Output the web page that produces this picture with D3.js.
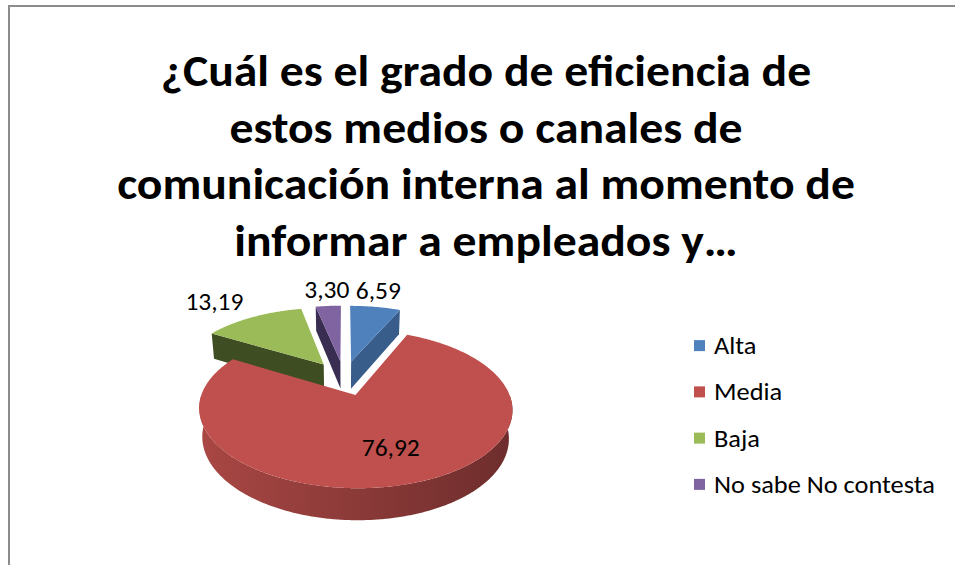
<!DOCTYPE html>
<html>
<head>
<meta charset="utf-8">
<script src="https://cdn.jsdelivr.net/npm/d3@7"></script>
<style>
  html, body { margin: 0; padding: 0; background: #fff; }
  svg { display: block; font-family: Carlito, Calibri, Lato, sans-serif; }
</style>
</head>
<body>
<svg id="chart" width="955" height="565"></svg>
<script>
// data
const categories = ["Alta", "Media", "Baja", "No sabe No contesta"];
const values = [6.59, 76.92, 13.19, 3.30];
const titleLines = [
    "¿Cuál es el grado de eficiencia de",
    "estos medios o canales de",
    "comunicación interna al momento de",
    "informar a empleados y…"
];
const topColors = ["#4f81bd", "#c0504d", "#9bbb59", "#8064a2"];
const wallColors = ["#385d8a", "#8a3331", "#3f4e22", "#3a2d52"];

const svg = d3.select("#chart");
const width = +svg.attr("width");
const height = +svg.attr("height");

// decimal comma like the original
const fmt = d3.formatLocale({decimal: ",", thousands: ".", grouping: [3], currency: ["", ""]}).format(".2f");

// outer frame
svg.append("rect")
    .attr("x", 9).attr("y", 6)
    .attr("width", width + 20).attr("height", height + 20)
    .attr("fill", "white")
    .attr("stroke", "#8c8c8c")
    .attr("stroke-width", 2);

// Calibri is narrow: keep the height, squeeze horizontally to the width seen
function squeeze(size, weight, str, target) {
    const t = svg.append("text").attr("font-size", size).attr("font-weight", weight).text(str);
    const w = t.node().getComputedTextLength();
    t.remove();
    return target / w;
}

// title
const titleSize = 45;
const kTitle = squeeze(titleSize, "bold", titleLines[2], 738);
const titleY = d3.scaleLinear().domain([0, 3]).range([86, 256]);
svg.append("g").selectAll("text")
    .data(titleLines)
    .join("text")
    .attr("transform", (d, i) => `translate(486,${titleY(i)}) scale(${kTitle},1)`)
    .attr("text-anchor", "middle")
    .attr("font-weight", "bold")
    .attr("font-size", titleSize)
    .attr("fill", "#000")
    .text(d => d);

// ---- 3D pie ----
const R = 148, tilt = 28.5 * Math.PI / 180, F = 760, H = 32, EXP = 36;
const cx = 344, cy = 378;

function project(X, Y, Z) {
    const u = Y * Math.cos(tilt) + Z * Math.sin(tilt);
    const w = Z * Math.cos(tilt) - Y * Math.sin(tilt);
    const s = F / (F + w);
    return [cx + X * s, cy - u * s];
}

const pie = d3.pie().sort(null).value(d => d.value).startAngle(0).endAngle(2 * Math.PI);
const arcs = pie(categories.map((c, i) => ({name: c, value: values[i], i: i})));

arcs.forEach(a => {
    a.mid = (a.startAngle + a.endAngle) / 2;
    a.ox = EXP * Math.sin(a.mid);
    a.oz = EXP * Math.cos(a.mid);
});

function pt(a, ang, r, y) {
    return project(a.ox + r * Math.sin(ang), y, a.oz + r * Math.cos(ang));
}
function arcPts(a, a0, a1, y) {
    const n = Math.max(2, Math.ceil((a1 - a0) / 0.01));
    return d3.range(n + 1).map(k => pt(a, a0 + (a1 - a0) * k / n, R, y));
}
const line = d3.line();

const defs = svg.append("defs");
arcs.forEach(a => {
    const c = d3.color(topColors[a.data.i]);
    const g = defs.append("linearGradient")
        .attr("id", "wall" + a.data.i)
        .attr("x1", 0).attr("x2", 1).attr("y1", 0).attr("y2", 0);
    g.append("stop").attr("offset", 0).attr("stop-color", c.darker(0.35));
    g.append("stop").attr("offset", 0.5).attr("stop-color", c.darker(0.9));
    g.append("stop").attr("offset", 1).attr("stop-color", c.darker(1.6));
});

const pieG = svg.append("g");
// far slices first
const order = arcs.slice().sort((a, b) => b.oz - a.oz);

order.forEach(a => {
    const g = pieG.append("g");
    const a0 = a.startAngle, a1 = a.endAngle;
    // curved outer wall (front half only)
    const w0 = Math.max(a0, Math.PI / 2), w1 = Math.min(a1, 3 * Math.PI / 2);
    if (w1 > w0) {
        const pts = arcPts(a, w0, w1, 0).concat(arcPts(a, w0, w1, -H).reverse());
        g.append("path")
            .attr("d", line(pts) + "Z")
            .attr("fill", "url(#wall" + a.data.i + ")");
    }
    // radial walls that face us
    if (Math.sin(a0) < -1e-6) {
        g.append("path")
            .attr("d", line([pt(a, a0, 0, 0), pt(a, a0, R, 0), pt(a, a0, R, -H), pt(a, a0, 0, -H)]) + "Z")
            .attr("fill", wallColors[a.data.i]);
    }
    if (Math.sin(a1) > 1e-6) {
        g.append("path")
            .attr("d", line([pt(a, a1, 0, 0), pt(a, a1, R, 0), pt(a, a1, R, -H), pt(a, a1, 0, -H)]) + "Z")
            .attr("fill", wallColors[a.data.i]);
    }
    // top face
    const top = [pt(a, 0, 0, 0)].concat(arcPts(a, a0, a1, 0));
    g.append("path")
        .attr("d", line(top) + "Z")
        .attr("fill", topColors[a.data.i]);
});

// value labels
const labelSize = 25;
const kLabel = squeeze(labelSize, "normal", "76,92", 58);
const labelG = svg.append("g");
arcs.forEach(a => {
    const inside = a.value > 50;
    const p = pt(a, a.mid, inside ? R * 0.64 : R * 1.15, 0);
    const sn = Math.sin(a.mid);
    let anchor = "middle";
    if (!inside && sn < -0.3) anchor = "end";
    if (!inside && sn > 0.3) anchor = "start";
    labelG.append("text")
        .attr("transform", `translate(${p[0]},${inside ? p[1] + 9 : p[1] - 1}) scale(${kLabel},1)`)
        .attr("text-anchor", anchor)
        .attr("font-size", labelSize)
        .attr("fill", "#000")
        .text(fmt(a.value));
});

// legend
const legendSize = 24;
const kLegend = squeeze(legendSize, "normal", categories[3], 221);
const legendY = d3.scaleBand().domain(categories).range([323, 508]);
const item = svg.append("g").selectAll("g")
    .data(categories)
    .join("g")
    .attr("transform", d => `translate(0,${legendY(d) + legendY.bandwidth() / 2})`);
item.append("rect")
    .attr("x", 694).attr("y", -6)
    .attr("width", 11).attr("height", 11)
    .attr("fill", (d, i) => topColors[i]);
item.append("text")
    .attr("transform", `translate(714,8) scale(${kLegend},1)`)
    .attr("font-size", legendSize)
    .attr("fill", "#000")
    .text(d => d);
</script>
</body>
</html>
